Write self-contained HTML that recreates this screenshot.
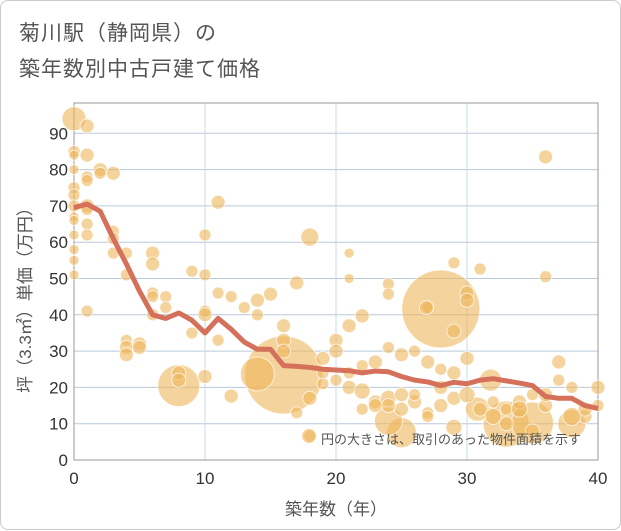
<!DOCTYPE html>
<html><head><meta charset="utf-8">
<style>
body{margin:0;background:#fff;font-family:"Liberation Sans","Noto Sans CJK JP",sans-serif;}
#card{position:absolute;left:0;top:0;width:619px;height:528px;border:1px solid #ccc;border-radius:8px;background:#fff;}
.title{position:absolute;left:18px;font-size:21px;color:#555;letter-spacing:1px;}
</style></head><body>
<div id="card">
<div class="title" style="top:16px">菊川駅（静岡県）の</div>
<div class="title" style="top:52px">築年数別中古戸建て価格</div>
<svg id="chart" width="621" height="530" style="position:absolute;left:0;top:0"></svg>
</div>
<script>
const xTicks=[0,10,20,30,40];
const yTicks=[0,10,20,30,40,50,60,70,80,90];
const lineYears=[0,1,2,3,4,5,6,7,8,9,10,11,12,13,14,15,16,17,18,19,20,21,22,23,24,25,26,27,28,29,30,31,32,33,34,35,36,37,38,39,40];
const lineValues=[69.5,70.5,68.5,61,54,46.5,40,39,40.5,38.5,35,39,36,32.5,30.5,30.5,26,25.8,25.5,25,24.8,24.6,24,24.5,24.3,23,22,21.5,20.5,21.4,21,22,22.4,21.8,21.2,20.5,17.5,17,17,15,14.2];
const bubbleX=[16,28,8,33,35,14,25,38,24,30.8,31.8,0,1,0,0,0,1,1,1,2,2,3,0,0,0,0,0,1,1,1,1,0,0,0,0,1,3,3,3,4,4,6,6,6,6,7,7,6,4,4,4,5,5,8,8,9,9,10,10,10,10,10,11,11,11,12,13,14,14,15,17,16,16,16,18,18,12,21,21,29,31,30,30,29,24,24,22,36,36,27,26.9,20,21,22,23,24,25,26,27,28,29,30,19,20,21,22,23,24,25,26,27,28,29,30,31,32,33,34,35,36,37,38,39,40,19,21,23,26,28,32,34,36,37,39,40,17,18,19,20,22,24,25,27,29,33,35,38];
const bubbleY=[23.4,41.6,20.5,9.9,10.2,23.7,7.5,10,10.7,14,22,94,92,85,84,80,84,78,77,80,79,79,75,73,70,67,66,70,69,65,62,62,58,55,51,41,63,61,57,57,51,57,54,46,45,45,42,40,33,31,29,32,31,24,22,52,35,62,51,41,40,23,71,46,33,45,42,44,40,45.7,48.8,37,33,30,61.4,6.6,17.6,57,50,54.3,52.6,46,44,35.5,48.5,45.7,39.7,83.5,50.5,42,42,33,37,26,27,31,29,30,27,25,24,28,28,22,20,19,16,17,14,16,13,15,17,18,14,12,14,16,18,15,27,20,12,15,21,24,15,18,20,16,14,18,22,14,20,13,17,24,30,14,15,18,12,9,10,8,12,10,22,9,11,8];
const bubbleR=[39,39,21,23,21,17,15,14,14,12,11,12,7,6,5,5,7,6,6,7,6,7,6,6,6,5,5,7,6,6,6,5,5,5,5,6,6,6,6,6,6,7,7,6,6,6,6,6,6,7,7,7,7,7,7,6,6,6,6,6,7,7,7,6,6,6,6,7,6,7,7,7,7,7,9,6,7,5,5,6,6,7,7,7,6,6,7,7,6,6,7,7,7,6,7,6,7,6,7,6,7,7,7,6,7,8,7,8,7,7,6,7,7,8,7,8,6,7,6,7,7,6,7,6,6,6,7,6,7,6,8,7,6,7,7,6,7,6,7,6,7,7,6,8,7,7,9,8,7,6,7];
const NS='http://www.w3.org/2000/svg';
const svg=document.getElementById('chart');
const X0=73,X1=597,Y0=459,Y1=132.3;
function sx(v){return X0+(v/40)*(X1-X0);}
function sy(v){return Y0-(v/90)*(Y0-Y1);}
function mk(tag,attrs,parent){const e=document.createElementNS(NS,tag);for(const k in attrs)e.setAttribute(k,attrs[k]);(parent||svg).appendChild(e);return e;}
const grid=mk('g',{});


mk('rect',{x:X0,y:102,width:X1-X0,height:Y0-102,fill:'#fff',stroke:'none'},grid);
yTicks.forEach(v=>{
 const l=mk('line',{x1:X0,x2:X1,y1:sy(v),y2:sy(v),stroke:'#b9c9da','stroke-width':1},grid);
 
 
 const t=mk('text',{x:X0-6,y:sy(v)+6,'text-anchor':'end','font-size':17,fill:'#333'});
 t.textContent=v;
 
 
});
xTicks.forEach(v=>{
 const l=mk('line',{x1:sx(v),x2:sx(v),y1:102,y2:Y0,stroke:'#c9d8e8','stroke-width':1},grid);
 
 
 const t=mk('text',{x:sx(v),y:Y0+24,'text-anchor':'middle','font-size':17,fill:'#333'});
 t.textContent=v;
 
 
});
const frame=mk('rect',{x:X0,y:102,width:X1-X0,height:Y0-102,fill:'none',stroke:'#999','stroke-width':1});


const bg=mk('g',{});


for(let i=0;i<bubbleX.length;i++){
 const c=mk('circle',{cx:sx(bubbleX[i]),cy:sy(bubbleY[i]),r:bubbleR[i],fill:'#eeb55a','fill-opacity':0.6,stroke:'#fff','stroke-opacity':0.7,'stroke-width':1},bg);
 
 
}
const pts=lineYears.map((y,i)=>sx(y)+','+sy(lineValues[i])).join(' ');
const pl=mk('polyline',{points:pts,fill:'none',stroke:'#d5705a','stroke-width':5,'stroke-linejoin':'round'});


const nc=mk('circle',{cx:308,cy:435,r:7,fill:'#eeb55a','fill-opacity':0.6});


const nt=mk('text',{x:320,y:443,'font-size':13,fill:'#555'});
nt.textContent='円の大きさは、取引のあった物件面積を示す';


const xt=mk('text',{x:335,y:514,'text-anchor':'middle','font-size':17,fill:'#555'});
xt.textContent='築年数（年）';


const yt=mk('text',{x:0,y:0,'text-anchor':'middle','font-size':17,fill:'#555',transform:'translate(30,295) rotate(-90)'});
yt.textContent='坪（3.3㎡）単価（万円）';


</script>
</body></html>
